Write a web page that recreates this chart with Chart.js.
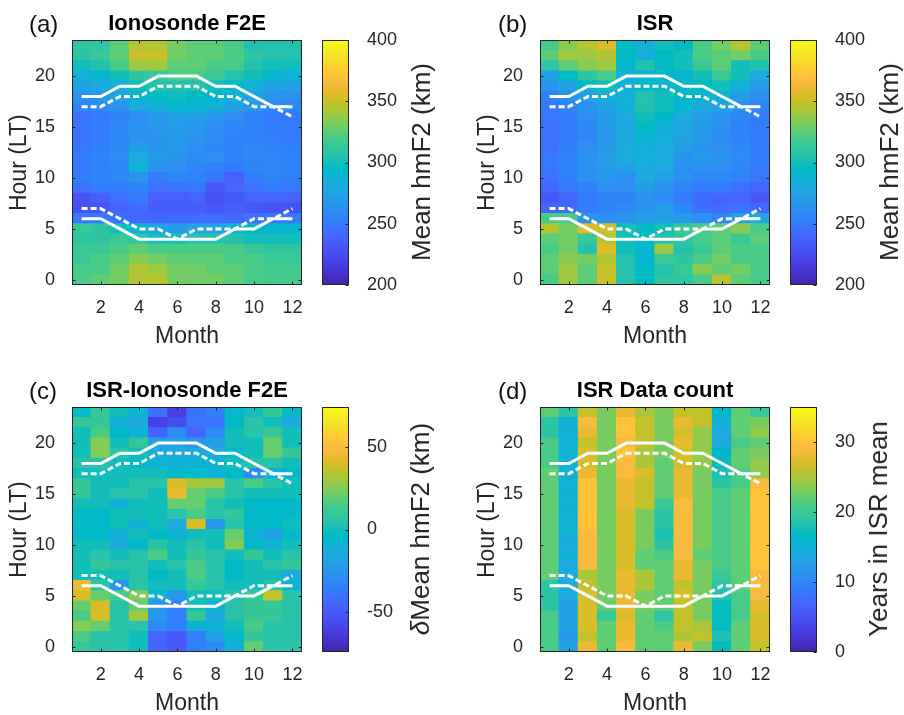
<!DOCTYPE html>
<html>
<head>
<meta charset="utf-8">
<script src="https://cdn.jsdelivr.net/npm/chart.js@4.4.1/dist/chart.umd.min.js"></script>
<style>
  html, body { margin:0; padding:0; background:#fff; }
  body { width:904px; height:715px; position:relative; overflow:hidden; font-family:"Liberation Sans", Arial, Helvetica, sans-serif; }
  canvas { position:absolute; }
  .plabel { position:absolute; font-size:24px; line-height:28px; color:#111; white-space:nowrap; }
  .cblabel { position:absolute; font-size:26px; line-height:30px; color:#262626; white-space:nowrap; transform:translate(-50%,-50%) rotate(-90deg); }
</style>
</head>
<body>
<canvas id="hmA" width="310" height="350" style="left:0px;top:0px"></canvas>
<canvas id="cbA" width="100" height="350" style="left:310px;top:0px"></canvas>
<canvas id="hmB" width="310" height="350" style="left:468px;top:0px"></canvas>
<canvas id="cbB" width="100" height="350" style="left:778px;top:0px"></canvas>
<canvas id="hmC" width="310" height="350" style="left:0px;top:367px"></canvas>
<canvas id="cbC" width="100" height="350" style="left:310px;top:367px"></canvas>
<canvas id="hmD" width="310" height="350" style="left:468px;top:367px"></canvas>
<canvas id="cbD" width="100" height="350" style="left:778px;top:367px"></canvas>

<div class="plabel" style="left:29px;top:10px">(a)</div>
<div class="plabel" style="left:498px;top:10px">(b)</div>
<div class="plabel" style="left:29px;top:377px">(c)</div>
<div class="plabel" style="left:498px;top:377px">(d)</div>

<div class="cblabel" style="left:421px;top:162px">Mean hmF2 (km)</div>
<div class="cblabel" style="left:889px;top:162px">Mean hmF2 (km)</div>
<div class="cblabel" style="left:420px;top:529px"><span style="font-style:italic">δ</span>Mean hmF2 (km)</div>
<div class="cblabel" style="left:878px;top:529px">Years in ISR mean</div>

<script>
// ---------------- DATA ----------------
const months = [1,2,3,4,5,6,7,8,9,10,11,12];
const hours = [0,1,2,3,4,5,6,7,8,9,10,11,12,13,14,15,16,17,18,19,20,21,22,23];
const xTickValues = [2,4,6,8,10,12];
const yTickValues = [0,5,10,15,20];

// white terminator lines (hour LT per month)
const sunsetSolid   = [18,18,19,19,20,20,20,19,19,18,17,17];
const sunsetDashed  = [17,17,18,18,19,19,19,18,18,17,17,16];
const sunriseSolid  = [6,6,5,4,4,4,4,4,5,5,6,6];
const sunriseDashed = [7,7,6,5,5,4,5,5,5,6,6,7];

// (a) Ionosonde F2E mean hmF2 (km), rows = hour 0..23, cols = month 1..12
const ionosondeF2E = [
  [320,325,330,345,345,330,330,330,325,320,318,318],
  [320,320,330,345,340,330,330,325,325,320,318,318],
  [315,320,325,335,330,325,325,325,320,320,315,315],
  [315,315,320,325,320,320,320,320,320,315,310,310],
  [310,310,315,310,300,300,305,305,305,300,300,300],
  [315,310,300,285,275,270,275,275,285,295,290,290],
  [248,250,245,240,240,240,242,242,240,245,248,250],
  [228,230,238,242,235,235,235,232,235,232,230,228],
  [230,235,245,250,235,235,238,228,232,238,240,238],
  [245,250,252,255,245,245,248,232,238,245,250,248],
  [252,255,258,265,250,258,255,248,235,250,255,252],
  [250,255,258,285,265,262,258,255,250,255,258,255],
  [250,255,260,280,268,265,260,262,255,258,258,255],
  [248,252,258,270,265,268,262,258,255,258,255,252],
  [245,250,258,265,265,268,265,260,255,255,252,250],
  [248,252,258,265,268,270,268,262,258,255,252,250],
  [245,250,255,262,270,275,272,268,262,255,250,250],
  [258,260,265,280,285,290,290,285,275,268,260,258],
  [265,268,275,290,295,300,295,290,285,275,265,262],
  [275,280,285,300,305,305,305,300,295,285,275,275],
  [285,290,300,310,315,320,320,315,305,300,290,285],
  [300,305,320,340,340,325,325,320,320,305,300,300],
  [310,315,325,350,350,330,325,325,320,310,305,305],
  [310,310,325,345,345,330,325,325,320,305,305,305]
];

// (b) ISR mean hmF2 (km)
const isrMean = [
  [320,340,325,350,305,295,310,310,320,345,325,320],
  [325,340,325,350,305,295,305,315,335,325,330,320],
  [325,335,330,345,305,290,315,310,320,330,320,320],
  [320,330,305,355,300,290,340,305,315,325,320,320],
  [325,330,315,345,300,295,305,310,320,325,315,325],
  [345,330,355,350,300,295,300,315,320,325,335,320],
  [320,320,265,262,265,270,272,268,262,258,275,280],
  [238,242,250,255,260,265,270,258,245,242,245,240],
  [232,240,250,255,255,265,260,250,242,238,240,232],
  [240,248,255,262,262,270,265,258,250,250,245,240],
  [245,252,262,268,262,280,272,262,258,258,255,248],
  [248,255,265,270,275,282,280,262,265,262,258,250],
  [248,255,265,272,280,285,282,265,268,265,260,252],
  [245,252,262,270,282,285,280,272,265,262,258,250],
  [245,250,258,268,280,290,285,275,268,260,255,250],
  [245,250,258,268,278,295,285,278,270,262,255,250],
  [248,252,262,270,280,300,292,282,272,265,258,252],
  [250,255,265,275,285,305,300,290,280,275,262,255],
  [255,262,275,285,285,305,300,295,290,285,270,262],
  [265,275,295,300,285,290,290,290,295,300,285,270],
  [275,295,310,320,285,290,290,290,300,315,300,280],
  [310,325,335,340,290,305,295,300,315,325,300,305],
  [325,340,340,345,295,285,295,300,320,325,330,320],
  [320,335,345,355,295,285,300,295,320,330,345,325]
];

// (c) ISR - Ionosonde F2E difference (km)
const isrMinusIonosonde = [
  [10,5,5,0,-45,-50,-35,-30,-10,20,5,5],
  [15,5,5,0,-45,-50,-35,-20,-5,10,5,5],
  [25,20,5,5,-30,-35,-10,-10,0,15,5,5],
  [15,40,5,30,-25,-35,10,-15,5,10,10,5],
  [20,40,5,20,-25,-35,0,-10,5,10,10,5],
  [40,20,15,25,-10,-25,0,0,5,10,35,5],
  [45,5,-25,5,0,0,10,5,0,0,5,-10],
  [0,0,0,5,-5,0,15,5,-5,0,0,-15],
  [0,10,5,5,0,5,15,5,-5,0,5,10],
  [0,5,0,5,15,0,10,5,0,10,0,5],
  [0,0,-15,-5,5,0,5,0,25,-5,-10,0],
  [-5,-5,-10,0,-5,-10,0,0,20,-10,-20,-5],
  [-5,-5,0,-10,0,-15,40,-25,5,-5,-5,0],
  [-5,-5,0,0,0,5,15,5,10,-5,-5,-5],
  [0,0,-10,0,0,20,20,5,0,-5,-5,-5],
  [10,0,5,5,0,45,20,15,5,0,0,0],
  [10,0,0,5,5,40,30,30,5,15,5,0],
  [0,0,0,0,0,-5,-5,-10,-5,-30,-10,-5],
  [5,5,0,-5,-10,-10,-10,-10,0,5,5,0],
  [0,25,5,0,-15,-15,-15,-15,-5,0,20,10],
  [0,25,0,10,-20,-20,-25,-20,0,0,20,0],
  [0,15,-5,-10,-45,-30,-45,-30,0,5,10,0],
  [10,10,-10,-15,-60,-55,-40,-40,-5,5,0,-15],
  [-5,10,0,-10,-40,-60,-40,-35,-5,0,10,-5]
];

// (d) ISR data count (years)
const isrDataCount = [
  [21,13,28,22,29,22,22,28,23,17,22,26],
  [21,12,26,22,28,22,22,25,26,18,22,27],
  [21,13,27,22,28,22,21,26,25,17,22,27],
  [21,13,27,20,27,22,19,26,23,17,21,27],
  [19,13,27,22,28,23,22,26,23,17,21,28],
  [19,14,27,23,28,23,22,27,23,18,21,29],
  [19,14,26,23,28,25,22,26,23,19,22,29],
  [22,14,25,23,28,25,22,28,23,20,22,29],
  [22,14,29,23,27,22,22,28,23,21,22,30],
  [22,15,29,23,27,22,21,29,22,21,22,30],
  [22,14,29,23,27,23,19,29,23,21,22,30],
  [22,15,29,23,27,23,18,29,23,21,22,30],
  [22,15,30,23,27,23,19,29,23,21,22,30],
  [22,15,30,23,27,23,19,29,23,21,22,30],
  [22,15,30,23,28,26,20,29,23,21,22,30],
  [22,15,30,23,28,26,22,28,23,21,22,30],
  [22,15,30,23,28,26,22,28,23,19,21,29],
  [22,15,28,23,29,27,22,28,23,18,21,24],
  [21,15,27,23,29,25,22,27,24,17,22,24],
  [21,15,27,23,30,25,23,27,24,16,22,23],
  [21,15,26,23,29,26,23,28,24,14,21,22],
  [19,15,28,23,30,26,23,27,24,14,22,24],
  [19,15,29,23,30,26,23,28,26,15,22,23],
  [22,19,26,23,28,25,23,26,26,16,22,20]
];

// colour limits and colour-bar ticks
const hmF2Range = [200, 400];
const hmF2Ticks = [200, 250, 300, 350, 400];
const deltaRange = [-74, 74];
const deltaTicks = [-50, 0, 50];
const countRange = [0, 35];
const countTicks = [0, 10, 20, 30];

// ---------------- STYLE ----------------
const FONT = '"Liberation Sans", Arial, Helvetica, sans-serif';
Chart.defaults.font.family = FONT;
Chart.defaults.color = '#262626';

// MATLAB parula colormap (64 entries)
const PARULA = [[0.2422,0.1504,0.6603],[0.2504,0.1650,0.7076],[0.2578,0.1818,0.7511],[0.2647,0.1978,0.7952],[0.2706,0.2147,0.8364],[0.2751,0.2342,0.8710],[0.2783,0.2559,0.8991],[0.2803,0.2782,0.9221],[0.2813,0.3006,0.9414],[0.2810,0.3228,0.9579],[0.2795,0.3447,0.9717],[0.2760,0.3667,0.9829],[0.2699,0.3892,0.9906],[0.2602,0.4123,0.9952],[0.2440,0.4358,0.9988],[0.2206,0.4603,0.9973],[0.1963,0.4847,0.9892],[0.1834,0.5074,0.9798],[0.1786,0.5289,0.9682],[0.1764,0.5499,0.9520],[0.1687,0.5703,0.9359],[0.1540,0.5902,0.9218],[0.1460,0.6091,0.9079],[0.1380,0.6276,0.8973],[0.1248,0.6459,0.8883],[0.1113,0.6635,0.8763],[0.0952,0.6798,0.8598],[0.0689,0.6948,0.8394],[0.0297,0.7082,0.8163],[0.0036,0.7203,0.7917],[0.0067,0.7312,0.7660],[0.0433,0.7411,0.7394],[0.0964,0.7500,0.7120],[0.1408,0.7584,0.6842],[0.1717,0.7670,0.6554],[0.1938,0.7758,0.6251],[0.2161,0.7843,0.5923],[0.2470,0.7918,0.5567],[0.2906,0.7973,0.5188],[0.3406,0.8008,0.4789],[0.3909,0.8029,0.4354],[0.4456,0.8024,0.3909],[0.5044,0.7993,0.3480],[0.5616,0.7942,0.3045],[0.6174,0.7876,0.2612],[0.6720,0.7793,0.2227],[0.7242,0.7698,0.1910],[0.7738,0.7598,0.1646],[0.8203,0.7498,0.1535],[0.8634,0.7406,0.1596],[0.9035,0.7330,0.1774],[0.9393,0.7288,0.2100],[0.9728,0.7298,0.2394],[0.9956,0.7434,0.2371],[0.9970,0.7659,0.2199],[0.9952,0.7893,0.2028],[0.9892,0.8136,0.1885],[0.9786,0.8386,0.1766],[0.9676,0.8639,0.1643],[0.9610,0.8890,0.1537],[0.9597,0.9135,0.1423],[0.9628,0.9373,0.1265],[0.9691,0.9606,0.1064],[0.9769,0.9839,0.0805]];
function rgbOf(c) { return `rgb(${Math.round(c[0]*255)},${Math.round(c[1]*255)},${Math.round(c[2]*255)})`; }
function parula(t) {
  t = Math.max(0, Math.min(1, t));
  const n = PARULA.length - 1;
  const f = t * n;
  const i = Math.min(Math.floor(f), n - 1);
  const r = f - i;
  const a = PARULA[i], b = PARULA[i + 1];
  return rgbOf([0,1,2].map(k => a[k] + (b[k] - a[k]) * r));
}

const boxPlugin = {
  id: 'matlabBox',
  afterDatasetsDraw(chart, args, opts) {
    const {ctx, chartArea: a, scales} = chart;
    const len = opts.len || 3;
    ctx.save();
    ctx.strokeStyle = '#262626';
    ctx.lineWidth = 1;
    const L = Math.round(a.left) + 0.5, R = Math.round(a.right) - 0.5;
    const T = Math.round(a.top) + 0.5, B = Math.round(a.bottom) - 0.5;
    ctx.strokeRect(L, T, R - L, B - T);
    ctx.beginPath();
    if (opts.full) {
      scales.x.ticks.forEach(t => {
        const px = Math.round(scales.x.getPixelForValue(t.value)) + 0.5;
        ctx.moveTo(px, B); ctx.lineTo(px, B - len);
        ctx.moveTo(px, T); ctx.lineTo(px, T + len);
      });
      scales.y.ticks.forEach(t => {
        const py = Math.round(scales.y.getPixelForValue(t.value)) + 0.5;
        ctx.moveTo(L, py); ctx.lineTo(L + len, py);
        ctx.moveTo(R, py); ctx.lineTo(R - len, py);
      });
    } else {
      scales.y.ticks.forEach(t => {
        const py = Math.round(scales.y.getPixelForValue(t.value)) + 0.5;
        ctx.moveTo(R, py); ctx.lineTo(R - len, py);
      });
    }
    ctx.stroke();
    ctx.restore();
  }
};

function lineDataset(arr, dashed) {
  return {
    type: 'line',
    data: months.map((m, i) => ({x: m, y: arr[i]})),
    borderColor: '#ffffff',
    borderWidth: 3,
    borderDash: dashed ? [6, 3] : [],
    pointRadius: 0,
    tension: 0,
    fill: false,
    order: 0
  };
}

function makeHeatmap(id, values, range, title) {
  const datasets = hours.map(h => ({
    type: 'bar',
    data: months.map(m => ({x: m, y: [h - 0.5, h + 0.5]})),
    backgroundColor: months.map((m, i) => parula((values[h][i] - range[0]) / (range[1] - range[0]))),
    borderWidth: 0,
    grouped: false,
    barPercentage: 1,
    categoryPercentage: 1,
    inflateAmount: 0.6,
    order: 5
  }));
  datasets.push(lineDataset(sunsetSolid, false), lineDataset(sunsetDashed, true),
                lineDataset(sunriseSolid, false), lineDataset(sunriseDashed, true));
  new Chart(document.getElementById(id), {
    type: 'bar',
    data: {datasets},
    plugins: [boxPlugin],
    options: {
      responsive: false, animation: false, devicePixelRatio: 1, events: [],
      layout: {padding: {left: 0, right: 8, top: 0, bottom: 0}},
      plugins: {
        legend: {display: false}, tooltip: {enabled: false},
        title: {display: true, text: title, fullSize: false, color: '#000',
                font: {size: 22, weight: 'bold', family: FONT}, padding: {top: 11, bottom: 3}},
        matlabBox: {full: true, len: 3}
      },
      scales: {
        x: {
          type: 'linear', min: 0.5, max: 12.5, offset: false,
          afterBuildTicks: s => { s.ticks = xTickValues.map(v => ({value: v})); },
          afterFit: s => { s.height = 65; },
          grid: {display: true, drawOnChartArea: false, drawTicks: true, tickLength: 12, color: 'rgba(0,0,0,0)'},
          border: {display: false},
          ticks: {padding: 0, font: {size: 18}, color: '#262626', maxRotation: 0},
          title: {display: true, text: 'Month', font: {size: 23}, color: '#262626', padding: {top: 0, bottom: 0}}
        },
        y: {
          type: 'linear', min: -0.5, max: 23.5, beginAtZero: false,
          afterBuildTicks: s => { s.ticks = yTickValues.map(v => ({value: v})); },
          afterFit: s => { s.width = 72; },
          grid: {display: false},
          border: {display: false},
          ticks: {padding: 9, font: {size: 18}, color: '#262626'},
          title: {display: true, text: 'Hour (LT)', font: {size: 23}, color: '#262626', padding: {top: 6, bottom: 0}}
        }
      }
    }
  });
}

function makeColorbar(id, range, tickVals) {
  new Chart(document.getElementById(id), {
    type: 'bar',
    data: {
      labels: [''],
      datasets: [{
        data: [[range[0], range[1]]],
        backgroundColor: (c) => {
          const a = c.chart.chartArea;
          if (!a) return 'rgba(0,0,0,0)';
          const g = c.chart.ctx.createLinearGradient(0, a.bottom, 0, a.top);
          PARULA.forEach((col, i) => g.addColorStop(i / (PARULA.length - 1), rgbOf(col)));
          return g;
        },
        borderWidth: 0,
        barPercentage: 1,
        categoryPercentage: 1
      }]
    },
    plugins: [boxPlugin],
    options: {
      responsive: false, animation: false, devicePixelRatio: 1, events: [],
      layout: {padding: {left: 12, right: 0, top: 40, bottom: 65}},
      plugins: {legend: {display: false}, tooltip: {enabled: false}, matlabBox: {full: false, len: 3}},
      scales: {
        x: {display: false},
        y: {
          position: 'right', min: range[0], max: range[1], beginAtZero: false,
          afterBuildTicks: s => { s.ticks = tickVals.map(v => ({value: v})); },
          afterFit: s => { s.width = 61; },
          grid: {display: false}, border: {display: false},
          ticks: {padding: 10, font: {size: 18}, color: '#262626'}
        }
      }
    }
  });
}

makeHeatmap('hmA', ionosondeF2E, hmF2Range, 'Ionosonde F2E');
makeColorbar('cbA', hmF2Range, hmF2Ticks);
makeHeatmap('hmB', isrMean, hmF2Range, 'ISR');
makeColorbar('cbB', hmF2Range, hmF2Ticks);
makeHeatmap('hmC', isrMinusIonosonde, deltaRange, 'ISR-Ionosonde F2E');
makeColorbar('cbC', deltaRange, deltaTicks);
makeHeatmap('hmD', isrDataCount, countRange, 'ISR Data count');
makeColorbar('cbD', countRange, countTicks);
</script>
</body>
</html>
